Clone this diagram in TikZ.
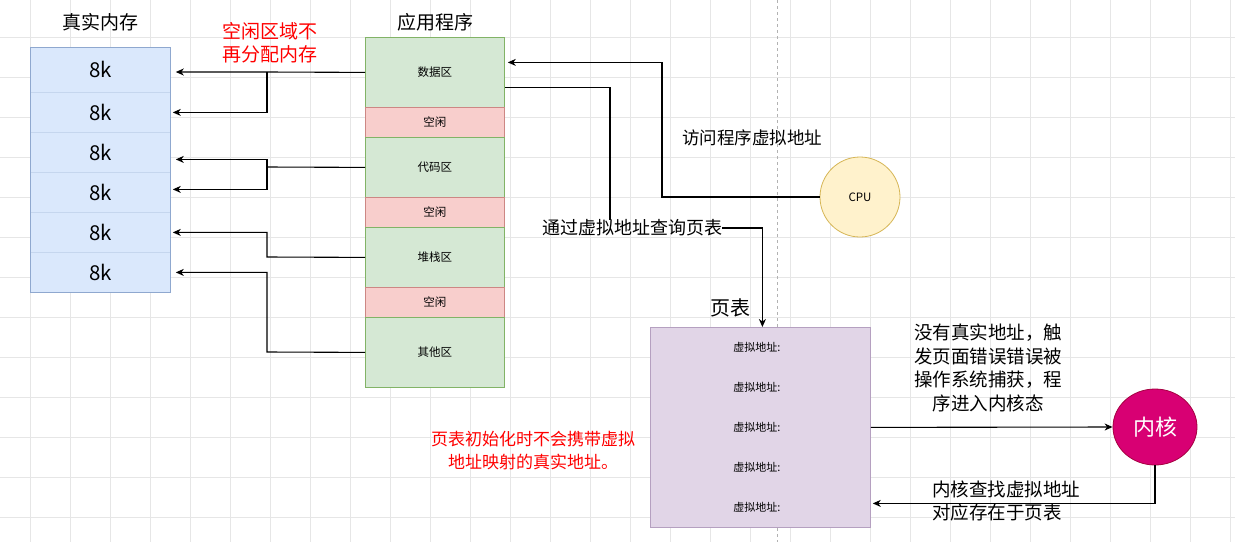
\documentclass[tikz,border=0pt]{standalone}
\usepackage{fontspec}
\setmainfont{Noto Sans CJK SC}
\usetikzlibrary{arrows.meta,shapes.geometric}
\definecolor{gridc}{HTML}{E6E6E6}
\definecolor{memfill}{HTML}{DAE8FC}
\definecolor{memdraw}{HTML}{8FA8CF}
\definecolor{memin}{HTML}{C5D6EE}
\definecolor{gfill}{HTML}{D5E8D4}
\definecolor{gdraw}{HTML}{82B366}
\definecolor{rfill}{HTML}{F8CECC}
\definecolor{rdraw}{HTML}{B85450}
\definecolor{pfill}{HTML}{E1D5E7}
\definecolor{pdraw}{HTML}{B5A0C0}
\definecolor{yfill}{HTML}{FFF2CC}
\definecolor{ydraw}{HTML}{D6B656}
\definecolor{kfill}{HTML}{D80073}
\definecolor{kdraw}{HTML}{A50040}
\begin{document}
\begin{tikzpicture}[x=1pt,y=-1pt,
  memcell/.style={draw=memin,fill=memfill,line width=0.8pt,minimum width=140pt,inner sep=0pt,anchor=north west,font=\fontsize{20.5}{22}\selectfont},
  gseg/.style={draw=gdraw,fill=gfill,line width=0.8pt,minimum width=139pt,inner sep=0pt,anchor=north west,font=\fontsize{11.5}{13}\selectfont},
  rseg/.style={draw=rdraw!70,fill=rfill,line width=0.8pt,minimum width=139pt,minimum height=30pt,inner sep=0pt,anchor=north west,font=\fontsize{11.5}{13}\selectfont},
  title/.style={inner sep=0pt,font=\fontsize{19}{22}\selectfont},
  note/.style={inner sep=0pt,align=center},
  ptxt/.style={inner sep=0pt,font=\fontsize{11}{13}\selectfont},
  conn/.style={line width=1.1pt,black},
  arr/.style={conn,-{Stealth[length=8pt,width=7pt,inset=2.5pt]}}
]
\fill[white] (0,0) rectangle (1235,542);
\useasboundingbox (0,0) rectangle (1235,542);
% grid
\foreach \gx in {30,70,...,1230} \draw[gridc,line width=0.8pt] (\gx,0) -- (\gx,542);
\foreach \gy in {37,77,...,517} \draw[gridc,line width=0.8pt] (0,\gy) -- (1235,\gy);
\draw[black!30,dashed,line width=0.8pt] (777,0) -- (777,542);

% titles
\node[title] (memtitle) at (100,22) {真实内存};
\node[title] (apptitle) at (435,22) {应用程序};
\node[title,font=\fontsize{20}{22}\selectfont] (pttitle) at (730,308) {页表};

% memory
\node[memcell,minimum height=45pt] (mem1) at (30,47) {8k};
\node[memcell,minimum height=40pt] (mem2) at (30,92) {8k};
\node[memcell,minimum height=40pt] (mem3) at (30,132) {8k};
\node[memcell,minimum height=40pt] (mem4) at (30,172) {8k};
\node[memcell,minimum height=40pt] (mem5) at (30,212) {8k};
\node[memcell,minimum height=40pt] (mem6) at (30,252) {8k};
\draw[memdraw,line width=0.8pt] (mem1.north west) rectangle (mem6.south east);

% application
\node[gseg,minimum height=70pt] (data) at (365,37) {数据区};
\node[rseg] (free1) at (365,107) {空闲};
\node[gseg,minimum height=60pt] (code) at (365,137) {代码区};
\node[rseg] (free2) at (365,197) {空闲};
\node[gseg,minimum height=60pt] (stack) at (365,227) {堆栈区};
\node[rseg] (free3) at (365,287) {空闲};
\node[gseg,minimum height=70pt] (other) at (365,317) {其他区};

% red note top
\node[note,text=red,font=\fontsize{19}{23}\selectfont] (freenote) at (270,43) {空闲区域不\\再分配内存};

% app -> memory
\coordinate (b1) at (267,72);
\coordinate (b2) at (267,167);
\coordinate (b3) at (267,257);
\coordinate (b4) at (267,352);
\draw[arr] (data.west) -- (b1) -- ([xshift=5pt]mem1.east |- b1);
\draw[arr] (b1) |- ([xshift=2pt]mem2.east);
\draw[conn] (code.west) -- (b2);
\draw[arr] (b2) |- ([xshift=5pt,yshift=-7pt]mem3.east);
\draw[arr] (b2) |- ([xshift=2pt,yshift=3pt]mem4.east);
\draw[arr] (stack.west) -- (b3) |- ([xshift=2pt]mem5.east);
\draw[arr] (other.west) -- (b4) |- ([xshift=5pt]mem6.east);

% CPU
\node[circle,draw=ydraw,fill=yfill,line width=0.8pt,minimum size=80pt,inner sep=0pt,font=\fontsize{11.5}{13}\selectfont] (cpu) at (860,197) {CPU};
\node[inner sep=0pt,font=\fontsize{17.5}{20}\selectfont] (cpunote) at (752,138) {访问程序虚拟地址};
\draw[arr] (cpu.west) -- (662,197) |- ([xshift=3pt,yshift=10pt]data.east);

% page table
\node[draw=pdraw,fill=pfill,line width=0.8pt,minimum width=220pt,minimum height=200pt,inner sep=0pt,anchor=north west] (pt) at (650,327) {};
\node[ptxt] (pt1) at (757,347) {虚拟地址:};
\node[ptxt] (pt2) at (757,387) {虚拟地址:};
\node[ptxt] (pt3) at (757,427) {虚拟地址:};
\node[ptxt] (pt4) at (757,467) {虚拟地址:};
\node[ptxt] (pt5) at (757,507) {虚拟地址:};

% query page table
\node[inner sep=0pt,font=\fontsize{18}{20}\selectfont] (qlbl) at (632,228) {通过虚拟地址查询页表};
\draw[conn] ([yshift=-15pt]data.east) -| ([xshift=-22pt]qlbl.north);
\draw[arr] (qlbl.east) -| ([xshift=2pt]pt.north);

% red note lower
\node[note,text=red,font=\fontsize{17}{23}\selectfont] (ptnote) at (533,451) {页表初始化时不会携带虚拟\\地址映射的真实地址。};

% kernel
\node[ellipse,draw=kdraw,fill=kfill,line width=0.8pt,minimum width=84pt,minimum height=76pt,inner sep=0pt,text=white,font=\fontsize{22}{24}\selectfont] (kern) at (1155,427) {内核};
\node[note,font=\fontsize{18.5}{23.5}\selectfont] (faultnote) at (988,368) {没有真实地址，触\\发页面错误错误被\\操作系统捕获，程\\序进入内核态};
\draw[arr] (pt.east) -- (kern.west);
\draw[arr] (kern.south) |- ([xshift=2pt,yshift=-76pt]pt.east);
\node[inner sep=0pt,align=left,anchor=west,font=\fontsize{18.5}{23}\selectfont] (knote) at (932,501) {内核查找虚拟地址\\对应存在于页表};
\end{tikzpicture}
\end{document}
